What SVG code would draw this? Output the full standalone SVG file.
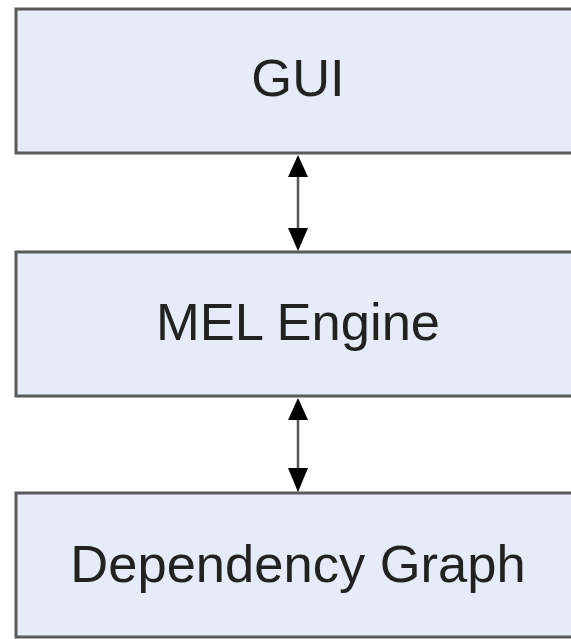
<svg xmlns="http://www.w3.org/2000/svg" width="571" height="639" viewBox="0 0 571 639">
<defs>
<style>
.box{fill:#E6ECF7;stroke:#5a5a5a;stroke-width:3}
.lbl{font-family:"Liberation Sans",Arial,sans-serif;font-size:52.5px;fill:#222;text-anchor:middle}
.conn{stroke:#555;stroke-width:2.5;fill:none}
</style>
</defs>
<rect width="571" height="639" fill="#fff"/>
<g id="gui">
<rect class="box" x="16" y="9" width="580" height="144"/>
<text class="lbl" x="298" y="96">GUI</text>
</g>
<g id="mel">
<rect class="box" x="16" y="252" width="580" height="144"/>
<text class="lbl" x="298" y="340">MEL Engine</text>
</g>
<g id="dep">
<rect class="box" x="16" y="493" width="580" height="144"/>
<text class="lbl" x="298" y="582">Dependency Graph</text>
</g>
<g id="connectors">
<line class="conn" x1="298" y1="176" x2="298" y2="229"/>
<path d="M298,155 L288,177 L308,177 z" fill="#000"/>
<path d="M298,251 L288,228 L308,228 z" fill="#000"/>
<line class="conn" x1="298" y1="419" x2="298" y2="469"/>
<path d="M298,398 L288,420 L308,420 z" fill="#000"/>
<path d="M298,492 L288,468 L308,468 z" fill="#000"/>
</g>
</svg>
